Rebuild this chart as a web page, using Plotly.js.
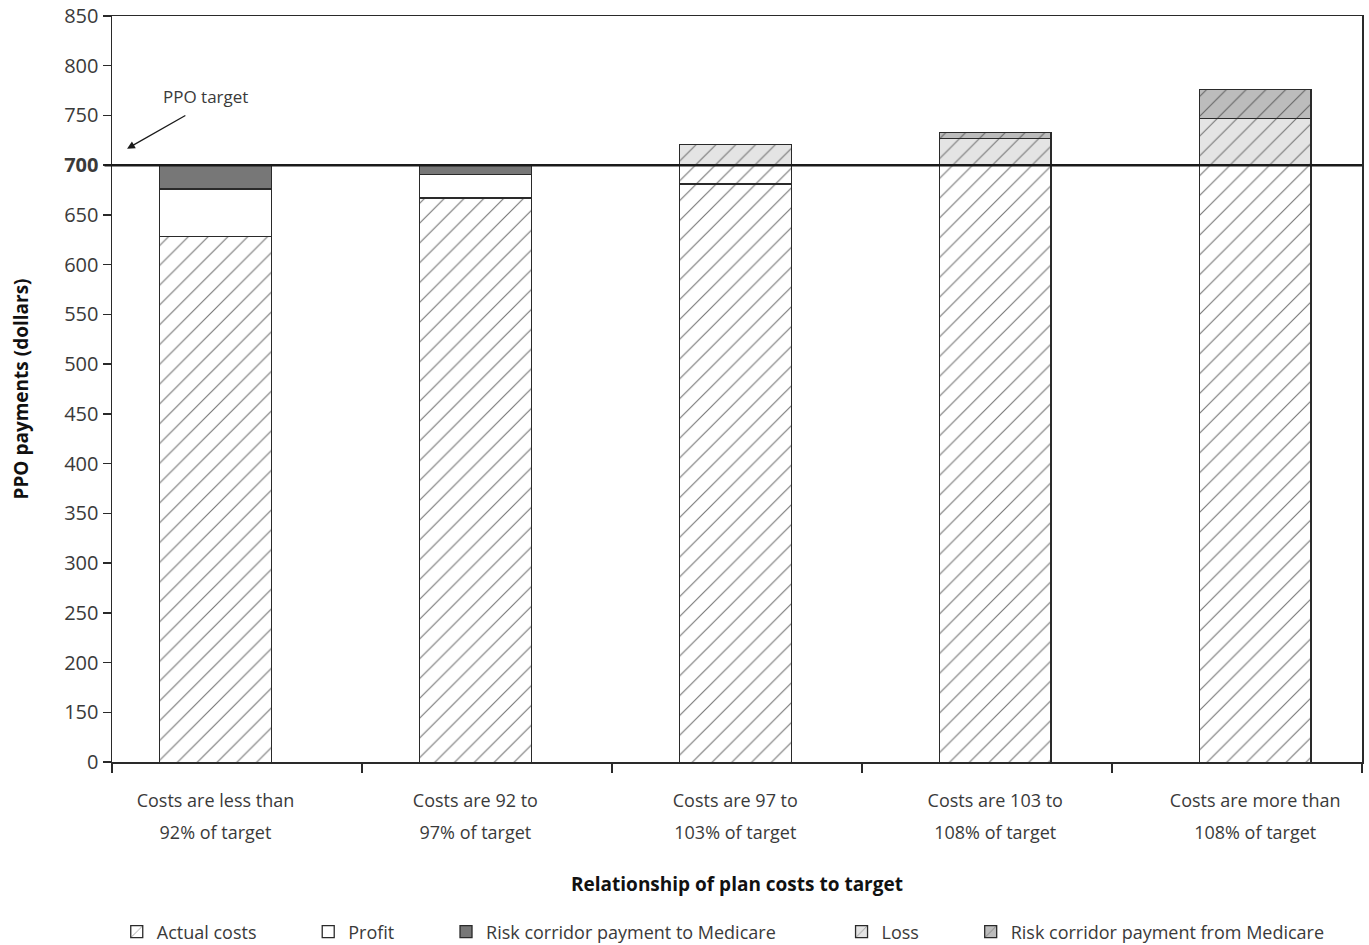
<!DOCTYPE html>
<html>
<head>
<meta charset="utf-8">
<script src="https://cdn.plot.ly/plotly-3.0.1.min.js"></script>
<style>html,body{margin:0;padding:0;background:#fff;}#chart{width:1369px;height:945px;}</style>
</head>
<body>
<div id="chart"></div>
<script>
// ---- data ----
const categories = [
  "Costs are less than<br>92% of target",
  "Costs are 92 to<br>97% of target",
  "Costs are 97 to<br>103% of target",
  "Costs are 103 to<br>108% of target",
  "Costs are more than<br>108% of target"
];
const actualCosts     = [628, 667, 681, 700, 700];
const actualCostsRest = [0, 0, 19, 0, 0];   // second segment of actual costs (same pattern)
const profit          = [48, 24, 0, 0, 0];
const riskToMedicare  = [24, 9, 0, 0, 0];
const loss            = [0, 0, 21, 27, 47];
const riskFromMedicare= [0, 0, 0, 6, 29];
const seriesNames = ["Actual costs", "Profit", "Risk corridor payment to Medicare", "Loss", "Risk corridor payment from Medicare"];
const yTickVals  = [100,150,200,250,300,350,400,450,500,550,600,650,700,750,800,850];
const yTickText  = ["0","150","200","250","300","350","400","450","500","550","600","650","<b>700</b>","750","800","850"];
const targetValue = 700;

// ---- styling ----
const FONT = "Open Sans, Lato, sans-serif";
const TXT = "#3a3a3a";
const xpos = categories.map((c, i) => i);
const pad = n => "\u00a0".repeat(n);
const outline = {color: "#2a2a2a", width: 1.3};
const hatch = (bg, fg) => ({shape: "/", bgcolor: bg, fgcolor: fg, size: 14, solidity: 0.08, fillmode: "replace"});

function barTrace(name, vals, fill, pattern, showlegend, legendName) {
  const m = {color: fill, line: outline};
  if (pattern) m.pattern = pattern;
  return {type: "bar", x: xpos, y: vals, name: legendName || name, marker: m,
          width: 0.43, showlegend: showlegend, hoverinfo: "skip"};
}

const traces = [
  barTrace(seriesNames[0], actualCosts, "#ffffff", hatch("#ffffff", "#777777"), true, seriesNames[0] + pad(10)),
  barTrace(seriesNames[0], actualCostsRest, "#ffffff", hatch("#ffffff", "#777777"), false),
  barTrace(seriesNames[1], profit, "#ffffff", null, true, seriesNames[1] + pad(10)),
  barTrace(seriesNames[2], riskToMedicare, "#777777", null, true, seriesNames[2] + pad(13)),
  barTrace(seriesNames[3], loss, "#e4e4e4", hatch("#e4e4e4", "#777777"), true, seriesNames[3] + pad(10)),
  barTrace(seriesNames[4], riskFromMedicare, "#bcbcbc", hatch("#bcbcbc", "#666666"), true, seriesNames[4])
];

// category boundaries (tick marks between groups)
const xmin = -0.398, xmax = 4.411;
const step = (xmax - xmin) / categories.length;
const boundaries = [];
for (let i = 0; i <= categories.length; i++) boundaries.push(xmin + i * step);

const tickText = categories.map(c => c.split("<br>").map(s => "<span style='font-size:18px'>" + s + "</span>").join("<br>"));

const layout = {
  width: 1369, height: 945,
  margin: {l: 112, r: 7, t: 16, b: 183},
  paper_bgcolor: "#fff", plot_bgcolor: "#fff",
  barmode: "stack",
  font: {family: FONT, color: TXT, size: 18},
  showlegend: true,
  legend: {orientation: "h", x: 0.489, xanchor: "center", yref: "container", y: 0.0138, yanchor: "middle",
           font: {family: FONT, size: 18, color: TXT}, traceorder: "normal", itemclick: false},
  xaxis: {
    range: [xmin, xmax], showgrid: false, zeroline: false,
    showline: true, linecolor: "#2a2a2a", linewidth: 1.5, mirror: true,
    tickvals: xpos, ticktext: tickText, ticks: "", ticklabelstandoff: 15,
    tickfont: {family: FONT, size: 24, color: TXT},
    minor: {tickvals: boundaries, ticks: "outside", ticklen: 9, tickcolor: "#2a2a2a", tickwidth: 1.5, showgrid: false},
    title: {text: "<b>Relationship of plan costs to target</b>", font: {family: FONT, size: 19, color: "#111"}, standoff: 35}
  },
  yaxis: {
    range: [100, 850], showgrid: false, zeroline: false,
    showline: true, linecolor: "#2a2a2a", linewidth: 1.5, mirror: true,
    tickvals: yTickVals, ticktext: yTickText,
    ticks: "outside", ticklen: 8, tickcolor: "#2a2a2a", tickwidth: 1.5,
    tickfont: {family: FONT, size: 20, color: TXT},
    title: {text: "<b>PPO payments (dollars)</b>", font: {family: FONT, size: 19, color: "#111"}, standoff: 30}
  },
  shapes: [{type: "line", xref: "paper", yref: "y", x0: -0.006, x1: 1, y0: targetValue, y1: targetValue,
            line: {color: "#1a1a1a", width: 2.6}, layer: "above"}],
  annotations: [
    {xref: "x", yref: "y", x: -0.04, y: 769, text: "PPO target", showarrow: false,
     font: {family: FONT, size: 17, color: TXT}},
    {xref: "x", yref: "y", x: -0.34, y: 716.6, axref: "x", ayref: "y", ax: -0.11, ay: 750.8,
     text: "", showarrow: true, arrowhead: 2, arrowsize: 1.2, arrowwidth: 1.3, arrowcolor: "#1a1a1a"}
  ],
  hovermode: false
};

Plotly.newPlot("chart", traces, layout, {displayModeBar: false, staticPlot: true});
</script>
</body>
</html>
